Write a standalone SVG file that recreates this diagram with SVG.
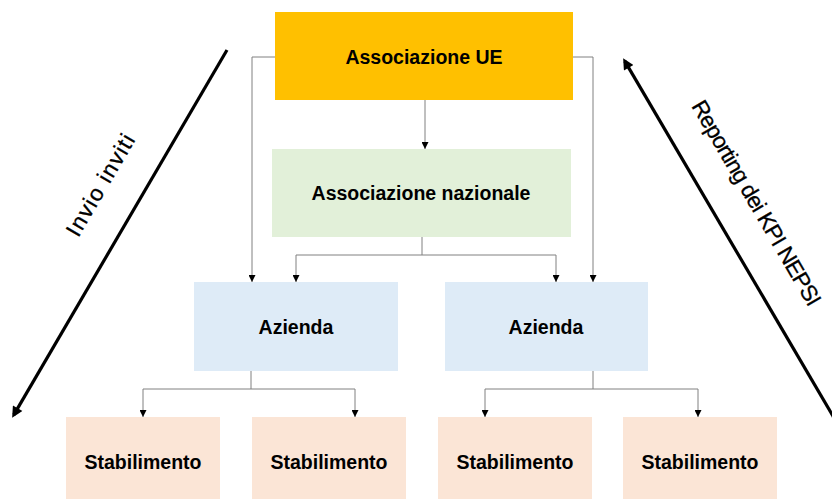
<svg xmlns="http://www.w3.org/2000/svg" width="832" height="499" viewBox="0 0 832 499">
<style>
.lbl{font-family:"Liberation Sans",Arial,sans-serif;font-weight:bold;font-size:19.5px;fill:#000;text-anchor:middle}
.diag{font-family:"Liberation Sans",Arial,sans-serif;font-size:22.5px;fill:#000;text-anchor:middle;stroke:#000;stroke-width:0.3}
.conn{fill:none;stroke:#808080;stroke-width:1;marker-end:url(#sa)}
.big{fill:none;stroke:#000;stroke-width:3.2;marker-end:url(#ba)}
.ue{fill:#FFC000}.naz{fill:#E2F0D9}.az{fill:#DEEBF7}.st{fill:#FBE5D6}
</style>
<defs>
<marker id="sa" viewBox="0 0 10 10" markerUnits="userSpaceOnUse" markerWidth="7" markerHeight="7" refX="10" refY="5" orient="auto"><path d="M0,0 L10,5 L0,10 z" fill="#000"/></marker>
<marker id="ba" viewBox="0 0 10 10" markerUnits="userSpaceOnUse" markerWidth="12" markerHeight="11" refX="7" refY="5" orient="auto"><path d="M0,0 L10,5 L0,10 z" fill="#000"/></marker>
</defs>
<rect width="832" height="499" fill="#fff"/>
<g id="connectors">
<path class="conn" d="M275,57 H252 V282"/>
<path class="conn" d="M573,57 H593 V282"/>
<path class="conn" d="M425,100 V149"/>
<path class="conn" d="M422,237 V255 H296 V282"/>
<path class="conn" d="M422,255 H556 V282"/>
<path class="conn" d="M251,371 V389 H143 V417"/>
<path class="conn" d="M251,389 H355 V417"/>
<path class="conn" d="M593,371 V389 H485 V417"/>
<path class="conn" d="M593,389 H698 V417"/>
<path class="big" d="M227,50 L13.8,414.9"/>
<path class="big" d="M840,428 L624.8,61.1"/>
</g>
<g id="label-invio"><text class="diag" x="107" y="189" transform="rotate(-59.7 107 189)" textLength="114" lengthAdjust="spacing">Invio inviti</text></g>
<g id="label-reporting"><text class="diag" x="750" y="207" transform="rotate(59.7 750 207)" textLength="234" lengthAdjust="spacing">Reporting dei KPI NEPSI</text></g>
<g id="ue"><rect class="ue" x="275" y="12" width="298" height="88"/><text class="lbl" x="424" y="64">Associazione UE</text></g>
<g id="nazionale"><rect class="naz" x="272" y="149" width="299" height="88"/><text class="lbl" x="421" y="200">Associazione nazionale</text></g>
<g id="azienda1"><rect class="az" x="194" y="282" width="204" height="89"/><text class="lbl" x="296" y="334">Azienda</text></g>
<g id="azienda2"><rect class="az" x="445" y="282" width="203" height="89"/><text class="lbl" x="546" y="334">Azienda</text></g>
<g id="stab1"><rect class="st" x="66" y="417" width="154" height="90"/><text class="lbl" x="143" y="469">Stabilimento</text></g>
<g id="stab2"><rect class="st" x="252" y="417" width="154" height="90"/><text class="lbl" x="329" y="469">Stabilimento</text></g>
<g id="stab3"><rect class="st" x="438" y="417" width="154" height="90"/><text class="lbl" x="515" y="469">Stabilimento</text></g>
<g id="stab4"><rect class="st" x="623" y="417" width="154" height="90"/><text class="lbl" x="700" y="469">Stabilimento</text></g>
</svg>
